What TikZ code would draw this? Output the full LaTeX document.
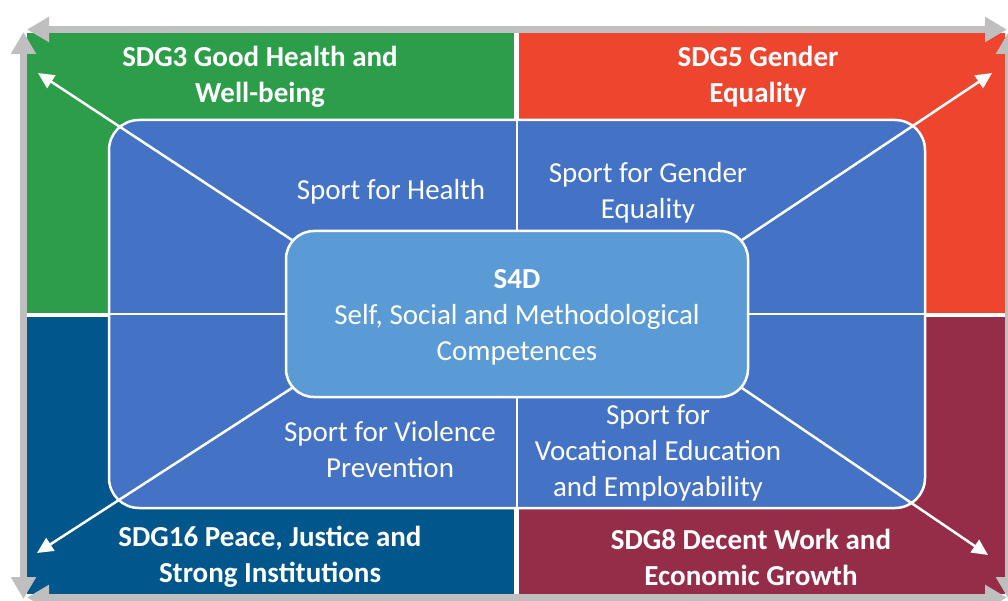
\documentclass[tikz,border=0pt]{standalone}
\usepackage{fontspec}
\setmainfont{Carlito}
\usetikzlibrary{arrows.meta}
\definecolor{sdggreen}{RGB}{44,158,74}
\definecolor{sdgred}{RGB}{238,69,47}
\definecolor{sdgblue}{RGB}{1,86,139}
\definecolor{sdgmaroon}{RGB}{150,45,72}
\definecolor{innerblue}{RGB}{68,114,196}
\definecolor{centreblue}{RGB}{91,155,213}
\definecolor{framegrey}{RGB}{191,191,191}

\begin{document}
\begin{tikzpicture}[x=1pt,y=-1pt,
  txt/.style={text=white,align=center,font=\fontsize{29}{36}\selectfont},
  boldtxt/.style={text=white,align=center,font=\bfseries\fontsize{29}{36}\selectfont},
  greyarrow/.style={draw=framegrey,line width=7pt,{Triangle[length=22pt,width=24pt]}-{Triangle[length=22pt,width=24pt]}},
  whitearrow/.style={draw=white,line width=2.5pt,-{Triangle[length=16pt,width=15pt]}},
  divider/.style={draw=white,line width=2.5pt}]
  \useasboundingbox (0,0) rectangle (1008,601);
  \clip (0,0) rectangle (1008,601);
  % four SDG quadrants
  \fill[sdggreen]  (27,33)  rectangle (514,313);
  \fill[sdgred]    (519,33) rectangle (1005,313);
  \fill[sdgblue]   (27,317) rectangle (514,594);
  \fill[sdgmaroon] (519,317) rectangle (1005,594);
  % grey frame arrows
  \draw[greyarrow] (27,29.5) -- (1007,29.5);
  \draw[greyarrow] (27,597.5) -- (1007,597.5);
  \draw[greyarrow] (23.5,32) -- (23.5,599);
  \draw[greyarrow] (1008.5,32) -- (1008.5,599);
  % inner box and centre
  \node[draw=white,fill=innerblue,line width=2.5pt,rounded corners=30pt,inner sep=0pt,outer sep=0pt,
    minimum width=816pt,minimum height=388pt] (frame) at (517,314) {};
  \node[draw=white,fill=centreblue,line width=2.5pt,rounded corners=28pt,inner sep=0pt,outer sep=0pt,
    minimum width=462pt,minimum height=166pt] (s4d) at (517,314) {};
  \draw[divider] (frame.north) -- (s4d.north);
  \draw[divider] (s4d.south) -- (frame.south);
  \draw[divider] (frame.west) -- (s4d.west);
  \draw[divider] (s4d.east) -- (frame.east);
  \coordinate (tl) at (38,73);
  \coordinate (tr) at (992,73);
  \coordinate (bl) at (37,553);
  \coordinate (br) at (988,555);
  \draw[whitearrow] ([shift={(6,9)}]s4d.north west) -- (tl);
  \draw[whitearrow] ([shift={(-6,9)}]s4d.north east) -- (tr);
  \draw[whitearrow] ([shift={(6,-9)}]s4d.south west) -- (bl);
  \draw[whitearrow] ([shift={(-6,-9)}]s4d.south east) -- (br);
  % labels
  \node[boldtxt] (sdg3) at (260,77) {SDG3 Good Health and\\Well-being};
  \node[boldtxt] (sdg5) at (758,77) {SDG5 Gender\\Equality};
  \node[boldtxt] (sdg16) at (270,557) {SDG16 Peace, Justice and\\Strong Institutions};
  \node[boldtxt] (sdg8) at (751,557) {SDG8 Decent Work and\\Economic Growth};
  \node[txt] (health) at (391,192) {Sport for Health};
  \node[txt] (gender) at (648,193) {Sport for Gender\\Equality};
  \node[txt] (violence) at (390,450) {Sport for Violence\\Prevention};
  \node[txt] (work) at (658,453) {Sport for\\Vocational Education\\and Employability};
  \node[txt] (comp) at (517,317) {\textbf{S4D}\\Self, Social and Methodological\\Competences};
\end{tikzpicture}
\end{document}
